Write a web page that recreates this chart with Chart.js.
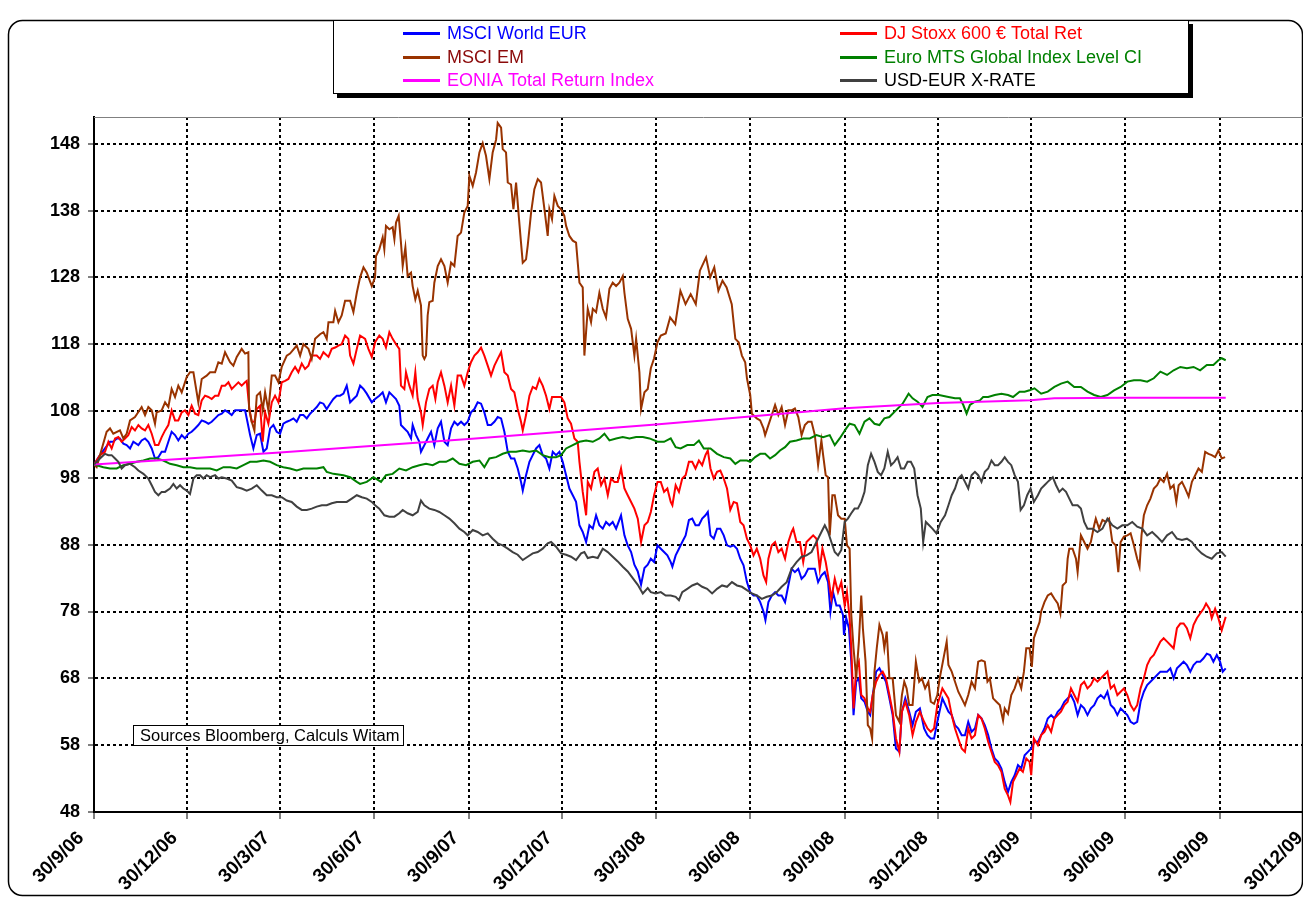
<!DOCTYPE html>
<html><head><meta charset="utf-8">
<script src="https://cdn.jsdelivr.net/npm/chart.js@4/dist/chart.umd.min.js"></script>
<style>
html,body{margin:0;padding:0;background:#fff;overflow:hidden;width:1303px;height:898px}
canvas{display:block}
</style></head><body>
<canvas id="c" width="1330" height="898"></canvas>
<script>
// x values = days since 30/9/06
const quarterDays=[0,91,181,273,365,456,547,639,731,822,912,1004,1096,1187];
const quarterLabels=['30/9/06','30/12/06','30/3/07','30/6/07','30/9/07','30/12/07','30/3/08','30/6/08','30/9/08','30/12/08','30/3/09','30/6/09','30/9/09','30/12/09'];
const yTicks=[48,58,68,78,88,98,108,118,128,138,148];
const seriesNames=['MSCI World EUR','DJ Stoxx 600 € Total Ret','MSCI EM','Euro MTS Global Index Level CI','EONIA Total Return Index','USD-EUR X-RATE'];

const msciWorld=[[0,100],[5.8,101.4],[10.7,102.4],[15.6,103.4],[18.8,103.4],[22.1,103.9],[25.3,103.9],[28.6,103.1],[31.8,102.9],[35.1,102.4],[38.3,103.4],[43.2,102.9],[46.4,103.6],[49.7,103.9],[52.9,103.4],[56.2,102.4],[59.4,100.9],[62.7,101.1],[65.9,101.9],[69.2,101.9],[72.4,103.4],[75.6,104.9],[78.9,104.4],[82.1,103.6],[85.4,104.4],[88.6,103.9],[91.9,104.6],[95.1,104.9],[98.4,105.4],[101.6,105.9],[104.9,106.6],[108.1,106.4],[111.4,106.1],[114.6,106.4],[117.9,106.9],[121.1,107.4],[124.4,107.6],[127.6,108.1],[130.9,107.8],[134.1,107.4],[137.4,108.1],[140.6,108.1],[147.1,108.1],[149.4,106.4],[152,104.4],[155.2,102.4],[158.5,104.4],[161.7,104.6],[165,101.9],[168.2,102.4],[171.5,105.4],[174.7,105.9],[177.9,104.9],[181.2,104.6],[184.4,106.1],[187.7,106.4],[190.9,106.6],[194.2,106.9],[197.4,106.4],[200.7,107.4],[203.9,107.4],[207.2,106.9],[210.4,107.6],[213.7,108.1],[216.9,108.6],[220.1,109.3],[223.4,109.1],[226.6,108.3],[229.9,109.1],[233.1,109.8],[236.4,110.3],[239.6,110.3],[242.9,110.6],[246.1,111.8],[249.4,109.3],[252.6,109.8],[255.9,110.3],[259.1,111.8],[262.4,111.3],[265.6,110.6],[270.5,109.3],[273.7,109.8],[277.8,110.3],[281.1,110.8],[284.3,109.3],[287.6,110.8],[290.8,110.3],[294.1,109.8],[297.3,108.8],[298.9,105.9],[302.2,105.4],[305.4,104.9],[308.7,103.9],[310.3,105.9],[313.6,104.4],[316.8,103.4],[318.4,101.9],[321.7,102.9],[324.9,103.9],[328.2,104.9],[331.4,102.9],[334.7,105.4],[337.9,106.4],[341.2,103.4],[344.4,102.9],[347.7,105.4],[350.9,106.4],[354.1,105.9],[357.4,106.4],[360.6,105.9],[363.9,106.4],[367.1,107.8],[370.4,108.3],[373.6,109.3],[376.9,109.1],[380.1,107.8],[383.4,105.9],[386.6,105.9],[389.9,106.4],[393.1,107.1],[396.4,106.9],[399.6,104.9],[402.9,101.9],[406.1,100.9],[409.3,100.9],[412.6,99.4],[415.8,97.4],[417.5,96.1],[420.7,98.4],[424,100.4],[427.2,101.4],[430.5,102.4],[433.7,102.9],[436.9,101.4],[440.2,100.9],[443.4,99.4],[446.7,101.9],[449.9,101.4],[453.2,101.9],[456.4,100.4],[459.7,98.4],[462.9,96.4],[466.2,95.4],[469.4,94.4],[472.7,90.9],[475.9,89.9],[479.2,88.4],[482.4,90.9],[485.7,90.4],[488.9,92.4],[492.1,90.9],[495.4,90.4],[498.6,91.4],[501.9,90.9],[505.1,91.4],[508.4,90.4],[513.2,92.4],[516.5,89.4],[519.7,87.9],[523,86.9],[526.2,85],[529.5,84],[532.7,82],[536,84.5],[539.2,85],[542.2,85.9],[545.4,85.4],[548.7,87.9],[551.9,87.4],[555.1,86.9],[558.3,86.4],[561.6,85.4],[563.2,84.7],[566.4,86.4],[569.6,87.4],[572.8,88.4],[576.1,89.4],[579.3,91.7],[582.5,91.9],[585.7,90.9],[589,90.9],[592.2,91.9],[595.4,92.4],[597.7,92.9],[600.3,89.4],[603.5,88.9],[606.7,90.4],[609.9,90.4],[613.2,89.4],[616.4,87.9],[619.6,87.7],[622.9,87.9],[626.1,87.4],[629.3,85.9],[632.5,84.9],[635.8,82.4],[639,80.9],[642.2,80.4],[645.4,80.4],[648.7,79.4],[651.9,78],[653.8,76.7],[656.7,79.4],[660,80.4],[663.2,80.9],[666.4,80.4],[669.6,80.4],[672.9,79.4],[676.1,81.9],[679.3,84.4],[682.5,83.9],[685.8,84.4],[689,82.9],[692.2,83.4],[695.4,84.4],[698.7,84.4],[701.9,84.4],[705.1,82.4],[708.3,83.4],[711.6,83.9],[714.8,82.4],[717.1,78],[719.6,80.9],[722.9,78.9],[726.1,78.9],[729.3,77.5],[730.3,74.5],[732.5,77],[735.1,75.5],[737.4,70.5],[739.6,62.5],[742.2,67.5],[744.8,68],[747.1,65],[750.3,64.5],[753.5,63],[755.8,62.5],[758.3,65.5],[761.6,69],[764.8,69.5],[768,68.5],[771.2,67.5],[774.5,65],[777.7,62.5],[780.9,57.5],[784.2,57],[786.7,63],[790,65],[793.8,63],[797.1,61],[800.3,63],[804.2,63.5],[808.3,60.5],[811.6,59.5],[814.8,59],[818,59],[821.2,61.5],[826.1,65],[832,63],[835.2,62.5],[838.4,61],[841.6,60.5],[844.9,59.5],[848.1,59.5],[851.3,61.5],[854.5,60],[857.8,60.5],[861,62.5],[864.2,62],[867.4,61],[870.7,59.5],[873.9,57.5],[877.1,56],[880.3,55.5],[883.6,54.5],[886.8,52.5],[890,51],[893.2,52.5],[896.5,53.5],[899.7,55],[902.9,54.5],[906.2,56.5],[909.4,57],[912.6,57.5],[915.8,58.5],[919.1,58.5],[922.3,59.5],[925.5,60.5],[928.7,62],[932,62.5],[935.2,62],[938.4,63],[941.6,63.5],[944.9,64.5],[948.1,65],[951.3,65.5],[954.5,64.5],[957.8,62.5],[961,64],[964.2,63.5],[967.4,62.5],[970.7,63.5],[973.9,64],[977.1,65],[980.3,65.5],[983.6,65],[986.8,66],[990,64],[993.3,63.5],[996.5,62.5],[999.7,63.5],[1002.9,63],[1006.2,62.5],[1009.4,61.5],[1012.6,61.2],[1015.8,61.5],[1019.1,64.5],[1022.3,66],[1025.5,67],[1028.7,67.5],[1032,68],[1035.2,68.5],[1038.4,69],[1041.6,69],[1044.9,69],[1048.1,69.5],[1051.3,68],[1054.5,69.5],[1057.8,70],[1061,70.5],[1064.2,70],[1067.5,69],[1070.7,70],[1073.9,70.5],[1077.1,70.5],[1080.4,71],[1083.6,71.7],[1086.8,71.5],[1090,70.5],[1093.3,71.5],[1096.5,70.5],[1099.1,69],[1102,69.5]];

const djStoxx=[[0,100],[5.8,101.4],[10.7,101.9],[14,103.4],[17.2,102.4],[20.5,103.9],[23.7,104.1],[26.9,103.4],[30.2,103.9],[33.4,104.4],[36.7,105.6],[39.9,105.1],[43.2,105.9],[46.4,105.4],[49.7,105.1],[52.9,105.9],[56.2,104.6],[59.4,102.9],[62.7,102.9],[65.9,104.1],[69.2,105.1],[72.4,105.9],[75.6,108.1],[78.9,106.6],[82.1,106.6],[85.4,107.8],[88.6,108.1],[91.9,107.4],[95.1,108.8],[98.4,107.6],[101.6,107.4],[104.9,109.6],[108.1,110.3],[111.4,110.1],[114.6,109.8],[117.9,110.3],[121.1,110.3],[124.4,111.8],[127.6,111.8],[130.9,112.3],[134.1,111.3],[137.4,111.8],[140.6,112.3],[143.8,111.8],[147.1,112.3],[148.7,112.5],[151.3,108.3],[153.6,106.4],[156.2,106.4],[158.5,108.3],[161.7,108.8],[164.3,103.4],[166.6,107.8],[169.8,106.1],[173.1,109.3],[176.3,110.3],[179.6,109.3],[182.8,112.3],[186.1,112.5],[189.3,112.8],[192.5,113.8],[195.8,114.6],[199,113.8],[202.3,115.1],[205.5,114.3],[208.8,114.8],[212,116.3],[216.9,116.3],[220.1,115.8],[223.4,116.8],[228.3,116.1],[231.5,117.3],[234.8,117.5],[238,117.8],[241.2,118],[244.5,119.3],[247.7,118.8],[249.4,116.3],[252.6,115.1],[255.9,117.3],[259.1,119.3],[264,118.8],[267.2,117.3],[270.5,116.1],[273.7,118.3],[277.8,119.3],[281.1,118.8],[284.3,117.5],[287.6,119.8],[290.8,118.8],[294.1,118],[297.3,117.3],[298.9,111.8],[302.2,111.3],[303.8,113.8],[307.1,111.8],[310.3,110.3],[312.9,113.8],[315.2,109.8],[318.4,107.8],[320.1,105.9],[323.3,109.3],[326.5,111.3],[329.8,111.8],[332.4,109.8],[334.7,112.3],[337.9,113.8],[341.2,111.8],[344.4,109.3],[347.7,111.8],[350.9,108.8],[354.1,113.3],[357.4,113.3],[360.6,111.8],[363.9,113.8],[367.1,115.3],[370.4,116.3],[373.6,116.8],[376.9,117.5],[380.1,116.3],[383.4,114.8],[386.6,113.3],[389.9,114.8],[393.1,115.8],[396.4,116.8],[399.6,113.8],[402.9,113.3],[406.1,111.3],[409.3,110.8],[412.6,108.3],[415.8,106.4],[417.5,105.1],[420.7,107.4],[424,110.3],[427.2,111.6],[430.5,111.3],[433.7,112.8],[436.9,111.8],[440.2,110.3],[443.4,108.3],[446,110.1],[449.9,110.1],[454.8,110.1],[458,109.3],[461.3,106.9],[464.5,106.1],[467.8,103.9],[471,103.4],[472.7,100.4],[475.9,95.9],[479.2,92.4],[480.8,97.4],[484,96.4],[487.3,98.9],[490.5,99.4],[493.8,96.9],[497,97.9],[500.3,95.4],[503.5,97.9],[506.8,97.4],[510,97.4],[513.2,99.4],[516.5,96.4],[519.7,95.4],[523,94.4],[526.2,93.4],[529.5,91.9],[532.7,88.4],[536,90.9],[539.2,91.4],[542.2,92.9],[545.4,95.4],[548.7,97.4],[551.9,97.4],[555.1,95.9],[558.3,96.4],[561.6,94.4],[563.2,93.9],[566.4,96.9],[569.6,95.9],[572.8,97.9],[576.1,98.4],[579.3,100.4],[582.5,100.4],[585.7,99.4],[589,100.6],[592.2,99.9],[595.4,101.4],[597.7,102.1],[600.3,99.4],[603.5,97.9],[606.7,98.9],[609.9,99.1],[613.2,97.9],[616.4,96.4],[619.6,93.2],[622.9,94.4],[626.1,94.2],[629.3,91.4],[632.5,90.9],[635.8,88.9],[639,87.9],[642.2,86.4],[645.4,87.4],[648.7,85.9],[651.9,83.4],[654.5,82.4],[656.7,85.9],[660,87.9],[663.2,88.4],[666.4,86.9],[669.6,87.4],[672.9,85.9],[676.1,88.4],[679.3,89.9],[680.9,90.4],[684.1,88.4],[687.4,88.4],[690.6,85.4],[693.8,88.4],[697,88.9],[700.3,89.4],[703.5,88.9],[706.7,84.4],[709.3,87.4],[712.5,85.4],[715.8,82.4],[718,79.9],[721.3,82.9],[724.5,80.9],[727.7,82.4],[731,78.9],[733.2,80.9],[735.8,77],[737.4,72.5],[739.6,63.5],[742.2,69.5],[744.8,70.5],[747.1,65.5],[750.3,65],[753.5,63.5],[755.8,63],[758.3,65.5],[761.6,67.5],[764.8,68.5],[768,69],[771.2,68],[774.5,65.5],[777.7,63],[780.9,59],[784.2,57],[786.7,63],[790,64.5],[793.8,62.5],[797.1,59.5],[800.3,61.5],[804.2,63],[808.3,61.5],[811.6,60.5],[814.8,60],[818,60.5],[821.2,64],[826.1,66.5],[832,65],[835.2,62.5],[838.4,60.5],[841.6,59],[844.9,57.5],[848.1,57],[851.3,60.5],[854.5,59],[857.8,59.5],[861,62.5],[864.2,62],[867.4,60.5],[870.7,58.5],[873.9,57],[877.1,55.5],[880.3,55],[883.6,54],[886.8,51.5],[890,50.5],[892.3,49.5],[894.9,52.5],[898.1,53.5],[901.3,54.5],[904.5,54],[907.8,56],[911,55.5],[912.6,53.5],[915.2,59],[919.1,58],[922.3,59.5],[925.5,60],[928.7,61],[932,60],[935.2,62],[938.4,62.5],[941.6,63],[944.9,64],[948.1,64.5],[951.3,66.5],[954.5,65.5],[957.8,64.5],[961,67],[964.2,67.5],[967.4,66.5],[970.7,67],[973.9,68],[977.1,67.5],[980.3,68],[983.6,68.5],[986.8,69],[990,66.5],[993.3,67],[996.5,65.5],[999.7,66],[1002.9,66.5],[1006.2,65.5],[1009.4,64],[1012.6,63.2],[1015.8,64],[1019.1,66.5],[1022.3,68],[1025.5,70],[1028.7,71],[1032,71.5],[1035.2,72.5],[1038.4,73.5],[1041.6,74],[1044.9,73.5],[1048.1,73],[1051.3,72.5],[1054.5,75.5],[1057.8,76.2],[1061,76.2],[1064.2,75.5],[1067.5,74],[1070.7,76],[1073.9,77],[1077.1,77.7],[1080.4,78.4],[1082.9,79.2],[1086.2,78.4],[1088.4,77],[1091.7,78.4],[1094.9,77],[1098.1,75.2],[1100.4,76.4],[1102,77.2]];

const msciEM=[[0,100],[2.6,99.6],[5.8,101.4],[12.3,104.9],[15.6,105.4],[18.8,104.6],[25.3,105.1],[28.6,103.9],[31.8,104.6],[35.1,106.6],[39.9,107.1],[46.4,108.6],[49.7,107.4],[52.9,108.6],[56.2,108.1],[59.4,106.1],[61,107.8],[65.9,108.1],[69.2,109.3],[72.4,108.6],[75.6,111.3],[78.9,110.1],[82.1,111.8],[85.4,110.8],[90.3,113.1],[93.5,113.8],[96.8,113.8],[101.6,109.3],[104.9,112.8],[109.7,113.3],[113,113.8],[117.9,113.8],[121.1,115.3],[124.4,115.1],[127.6,116.8],[132.5,115.3],[135.7,114.8],[139,116.1],[143.8,117.3],[147.1,116.6],[150.3,116.8],[151,108.3],[153.6,106.4],[156.2,105.1],[158.5,110.3],[161.7,110.8],[164.3,108.1],[166.6,110.8],[169.8,108.1],[173.1,113.3],[176.3,113.3],[179.6,112.3],[182.8,114.6],[187.7,116.3],[190.9,116.6],[197.4,117.8],[200.7,116.3],[203.9,118],[208.8,117.3],[212,115.8],[215.3,118.8],[220.1,119.5],[223.4,119.8],[226.6,118.8],[228.3,121.3],[233.1,121.3],[234.8,123],[238,121.3],[241.2,122.3],[244.5,124.5],[249.4,124.5],[252.6,122.8],[255.9,125.7],[259.1,128],[262.4,129.5],[265.6,128.7],[270.5,126.7],[273.7,128],[274.6,131.2],[277.8,132.2],[281.1,134],[282.7,132.2],[284.3,135.7],[287.6,135.2],[290.8,135.5],[292.5,133.7],[294.1,136.2],[296.7,137.2],[298.9,133.2],[300.6,129.7],[303.2,132.5],[305.4,128.2],[308.7,128.7],[310.3,126.7],[312.9,124.7],[315.2,126],[318.4,123.8],[320.1,116.3],[321.7,115.8],[323.3,116.3],[324.9,122.3],[326.5,124.3],[329.8,124.5],[331.4,127.2],[334.7,129.7],[337.9,130.7],[341.2,129.7],[344.4,127.2],[347.7,130.2],[350.9,129.7],[354.1,134.2],[357.4,134.7],[360.6,137.7],[363.9,138.7],[365.5,143.2],[368.8,141.7],[372,143.7],[375.3,146.7],[378.5,148.1],[381.7,146.2],[385,142.7],[388.2,146.7],[391.5,148.6],[393.1,151.1],[396.4,150.4],[398,147.2],[401.2,146.7],[402.9,142.2],[406.1,141.9],[408.4,138.2],[411,142.2],[413.6,137.2],[415.8,133.2],[417.5,130.2],[420.7,130.7],[422.3,132.7],[425.6,137.7],[428.8,141.2],[432.1,142.7],[435.3,142.2],[438.6,138.2],[441.8,134.2],[443.4,138.2],[446,136.7],[448.3,140.2],[451.6,138.7],[454.8,138.2],[458,137.2],[459.7,135.7],[462.9,134.2],[466.2,133.5],[469.4,133.2],[472.7,127.2],[475.9,126.5],[477.5,116.3],[480.8,123.3],[484,121.3],[485.7,123.3],[488.9,122.8],[492.1,125.7],[495.4,123.3],[498.6,122],[501.9,126.3],[505.1,127.2],[508.4,126.7],[511.6,127.2],[514.9,128.2],[516.5,125.7],[519.7,121.8],[523,120.3],[526.2,116.3],[527.9,118.8],[531.1,113.8],[532.7,108.3],[536,110.8],[539.2,111.3],[542.2,114.4],[545.4,115.9],[548.7,118.3],[551.9,119.3],[556.7,119.6],[561,122],[566,121],[571,126],[576,124],[581,125.5],[586,124],[590,129],[596,131],[600,128],[604,129.5],[608,126],[612,127.5],[616,126.5],[621,124],[624.5,118.8],[627.7,118.3],[630.9,116.3],[634.1,115.3],[635.8,112.9],[639,110.4],[640.6,107.6],[645.4,106.9],[648.7,106.6],[651.9,105.4],[653.5,104.4],[656.7,105.9],[660,107.4],[663.2,108.9],[666.4,107.4],[669.6,108.6],[672.9,105.9],[676.1,108.1],[679.3,108.1],[682.5,108.4],[685.8,107.1],[689,104.4],[692.2,105.9],[695.4,106.4],[698.7,106.4],[701.9,104.4],[705.1,99.9],[708.3,103.6],[710,101.4],[712.5,98.4],[714.8,98.1],[716.4,89.4],[719,95.4],[721.3,95.4],[724.5,92.4],[727.7,91.9],[731,91.9],[733.2,87.9],[735.8,87.4],[737.4,77.5],[739.6,72.5],[742.2,68],[744.8,73.5],[747.1,80.4],[748.7,75.5],[751.3,70.5],[753.5,61],[755.8,60.5],[757.7,59],[760,69],[762.2,72.5],[764.8,76],[768,74.5],[769.6,72.5],[771.9,75],[774.5,68],[777.7,68],[780.9,62.5],[784.2,61.5],[786.7,65.5],[789,67.5],[791.3,66.5],[793.8,64],[797.1,64],[800.3,70.5],[803.5,67.5],[806.1,68],[809.3,66.5],[812.5,67.5],[814.8,64.5],[818,64.2],[821.2,65.5],[823.5,68],[830.3,73.5],[832,70],[835.2,69],[838.4,67.5],[841.6,66],[844.9,65],[848.1,64],[851.3,65.5],[854.5,67.5],[857.8,66.5],[861,70.5],[864.2,70.7],[867.4,70.5],[870,67.5],[872.3,68],[875.5,65],[878.7,64.5],[882,64],[885.2,61.7],[886.8,63.5],[890,62.7],[893.2,65.5],[896.5,66.5],[899.7,68],[902.9,66.5],[905.5,69],[907.8,72.5],[911,72.5],[913.2,69.7],[915.2,74],[917.4,75],[920.7,76.4],[922.3,78],[925.5,79.4],[928.7,80.4],[932,80.7],[935.2,79.9],[938.4,79.2],[941,77.7],[943.2,81.9],[946.5,82.4],[948.1,85.9],[949.7,87.4],[952.9,87.4],[956.2,85.9],[957.8,83.9],[961,89.4],[964.2,88.4],[967.4,87.4],[970.7,88.4],[973.9,90.9],[975.5,91.9],[978.7,90.4],[982,91.7],[985.2,91.4],[988.4,91.9],[991.6,88.4],[994.9,87.9],[997.4,83.9],[999.7,88.4],[1002.9,89.2],[1006.2,89.4],[1009.4,89.7],[1012.6,87.9],[1015.8,85.9],[1018.1,84.7],[1020,89.4],[1022.3,92.4],[1025.5,93.9],[1028.7,94.9],[1032,96.4],[1035.2,96.9],[1038.4,97.9],[1041.6,97.4],[1044.9,98.6],[1048.1,96.4],[1051.3,96.9],[1053.9,94.4],[1056.2,96.9],[1059.4,97.4],[1062.6,96.4],[1065.9,95.2],[1069.1,97.4],[1072.3,98.4],[1075.5,99.4],[1078.8,98.9],[1082,101.9],[1085.2,101.6],[1088.4,101.4],[1091.7,101.1],[1094.9,102.1],[1098.1,100.9],[1101.4,101.1]];

const euroMTS=[[0,100],[9.1,99.6],[15.6,99.4],[22.1,99.4],[28.6,99.9],[35.1,100.1],[41.6,100.4],[48.1,100.6],[54.5,100.9],[61,100.9],[67.5,100.6],[74,100.1],[80.5,99.9],[87,99.6],[93.5,99.6],[100,99.4],[106.5,99.4],[113,99.4],[119.5,99.1],[126,99.6],[132.5,99.6],[139,99.4],[145.5,99.9],[152,100.4],[158.5,100.4],[165,100.6],[171.5,100.4],[177.9,99.9],[184.4,99.6],[190.9,99.4],[197.4,99.1],[203.9,99.4],[210.4,99.4],[216.9,99.4],[223.4,99.6],[226.6,98.9],[233.1,98.6],[242.9,98.4],[249.4,98.1],[255.9,97.4],[259.1,97.1],[265.6,97.4],[272.1,98.1],[279.5,97.4],[284.3,98.4],[290.8,98.6],[297.3,99.4],[303.8,99.1],[310.3,99.6],[316.8,99.9],[323.3,100.1],[329.8,99.9],[336.3,100.4],[342.8,100.4],[349.3,100.9],[355.8,100.1],[362.3,99.9],[368.8,100.4],[375.3,100.6],[380.1,99.6],[385,100.9],[391.5,101.1],[398,101.6],[404.5,101.9],[411,101.9],[417.5,102.1],[424,101.9],[430.5,102.1],[436.9,101.4],[443.4,101.1],[449.9,101.1],[454.8,101.4],[459.7,102.4],[466.2,102.9],[472.7,103.4],[479.2,103.6],[485.7,103.4],[492.1,103.9],[497,104.6],[501.9,103.6],[508.4,103.9],[514.9,104.1],[521.4,103.9],[527.9,104.1],[534.4,104.1],[540.9,103.9],[548.7,103.4],[555.1,103.4],[561.6,103.9],[566.4,102.6],[571.2,102.4],[577.7,102.9],[584.1,102.9],[589,103.6],[593.8,102.4],[600.3,102.4],[606.7,101.6],[613.2,101.1],[619.6,100.9],[624.5,100.1],[629.3,100.6],[635.8,100.6],[639,100.4],[643.8,101.1],[648.7,101.6],[653.5,101.6],[658.3,100.9],[663.2,101.4],[668,102.1],[672.9,102.6],[677.7,103.4],[684.1,103.6],[690.6,103.9],[697,103.9],[703.5,104.4],[710,104.1],[716.4,104.4],[721.3,102.9],[726.1,103.9],[732.5,105.4],[735.8,106.1],[740.6,105.9],[745.4,104.6],[750.3,106.4],[755.1,106.9],[760,106.1],[764.8,105.9],[769.6,106.9],[774.5,107.1],[780.9,108.1],[787.4,109.1],[793.2,110.6],[797.1,109.9],[801.9,109.4],[806.7,108.6],[811.6,110.1],[816.4,110.4],[822.9,110.4],[832,110.1],[838.4,109.9],[843.2,109.9],[846.5,108.9],[849.7,107.6],[852.9,108.9],[857.8,109.4],[862.6,109.6],[865.8,110.1],[870.7,110.1],[877.1,110.4],[883.6,110.6],[890,110.4],[894.9,110.1],[901.3,110.9],[906.2,110.9],[911,111.1],[915.8,111.4],[922.3,110.6],[928.7,110.9],[935.2,111.6],[941.6,112.1],[948.1,112.4],[954.5,111.6],[961,111.6],[967.4,110.9],[973.9,110.4],[980.3,110.1],[986.8,110.4],[993.3,111.1],[999.7,111.6],[1006.2,112.4],[1012.6,112.6],[1019.1,112.6],[1025.5,112.4],[1032,112.9],[1038.4,113.9],[1044.9,113.4],[1051.3,114.1],[1057.8,114.6],[1064.2,114.4],[1070.7,114.6],[1077.1,114.1],[1083.6,114.9],[1090,114.9],[1094.9,115.6],[1098.1,115.9],[1102,115.6]];

const eonia=[[0,100],[91,100.9],[181,101.8],[273,102.8],[365,103.8],[456,104.9],[547,106],[639,107.2],[731,108.4],[822,109.2],[912,109.6],[935,109.9],[1004,110],[1102,110]];

const usdEur=[[0,100],[5.8,100.9],[10.7,101.6],[14,101.4],[17.2,101.4],[20.5,100.9],[23.7,100.4],[26.9,99.4],[30.2,99.9],[35.1,100.1],[39.9,99.6],[43.2,99.1],[48.1,98.6],[52.9,97.9],[56.2,96.9],[59.4,95.9],[62.7,95.4],[65.9,95.9],[69.2,95.9],[74,96.4],[77.3,97.1],[80.5,96.4],[83.8,96.9],[87,96.4],[90.3,96.1],[93.5,95.6],[96.8,97.9],[100,98.4],[103.3,98.4],[106.5,97.9],[109.7,98.4],[113,98.1],[117.9,98.4],[121.1,97.9],[124.4,98.1],[129.2,97.9],[134.1,97.6],[139,96.6],[143.8,96.4],[148.7,96.1],[153.6,96.4],[158.5,96.9],[163.4,96.1],[168.2,95.4],[173.1,95.4],[177.9,95.1],[182.8,95.1],[187.7,94.6],[192.5,94.4],[197.4,93.7],[202.3,93.2],[207.2,93.2],[212,93.4],[216.9,93.7],[221.8,93.9],[226.6,93.9],[231.5,94.2],[236.4,94.4],[241.2,94.4],[246.1,94.4],[251,94.9],[255.9,95.4],[260.8,95.1],[265.6,94.9],[270.5,94.4],[273.7,93.9],[277.8,93.4],[282.7,92.4],[287.6,92.2],[292.5,92.2],[297.3,92.7],[300.6,93.2],[305.4,92.7],[310.3,92.4],[315.2,92.9],[318.4,94.6],[321.7,93.9],[326.5,93.4],[331.4,93.2],[336.3,92.9],[341.2,92.4],[346,91.9],[350.9,91.2],[355.8,90.4],[360.6,89.9],[363.9,89.4],[368.8,90.2],[373.6,89.9],[378.5,89.4],[383.4,89.7],[388.2,88.9],[393.1,88.2],[398,87.9],[402.9,87.4],[407.7,86.9],[412.6,86.5],[417.5,85.7],[422.3,86.2],[427.2,86.7],[432.1,86.9],[436.9,87.4],[441.8,88.2],[445.1,88.4],[449.9,87.7],[454.8,86.7],[459.7,86.5],[464.5,86.2],[469.4,85.7],[474.3,86.7],[477.5,86.9],[480.8,86],[485.7,86.2],[490.5,86],[495.4,87.4],[500.3,86.9],[505.1,86.2],[510,85.5],[514.9,84.7],[519.7,84],[524.6,83],[529.5,82],[534.4,80.7],[539.2,81.5],[542.2,80.9],[547,80.7],[551.9,80.9],[556.7,80.4],[561.6,80.4],[566.4,80.2],[569.6,79.7],[572.8,80.9],[577.7,81.4],[582.5,81.9],[587.4,82.2],[592.2,81.7],[597,81.4],[601.9,80.7],[606.7,81.4],[611.6,81.9],[616.4,81.7],[621.2,82.4],[626.1,81.9],[630.9,81.7],[635.8,81.2],[640.6,80.7],[645.4,80.4],[650.3,79.9],[655.1,80.2],[660,80.4],[664.8,80.9],[669.6,81.7],[674.5,82.4],[679.3,84.4],[684.1,85.4],[689,86.2],[693.8,86.4],[698.7,86.9],[703.5,88.4],[708.3,89.9],[711.6,90.9],[714.8,89.9],[718,88.4],[721.3,86.9],[724.5,86.4],[727.7,87.2],[730.9,91.4],[734.1,91.9],[737.4,92.7],[740.6,93.4],[743.8,93.4],[747.1,94.4],[750.3,95.9],[753.5,99.9],[756.7,101.6],[760,100.4],[763.2,98.9],[766.4,98.4],[769.6,99.4],[772.9,101.9],[776.1,99.9],[779.3,100.4],[782.5,101.1],[785.8,99.4],[789,99.4],[792.2,100.4],[795.4,100.4],[798.7,99.4],[801.9,95.4],[805.1,93.4],[807.4,88.4],[810,91.4],[813.2,90.9],[816.4,90.4],[820.3,89.7],[824.5,91.4],[828.7,92.4],[832,93.9],[835.2,95.4],[838.4,96.4],[841.6,97.9],[844.9,98.4],[848.1,97.4],[851.3,96.4],[854.5,98.4],[857.8,98.9],[861,98.4],[864.2,97.4],[867.4,98.9],[870.7,99.4],[873.9,100.6],[877.1,99.9],[880.3,99.9],[883.6,100.4],[886.8,101.1],[890,100.4],[893.2,99.9],[896.5,98.4],[899.7,97.4],[902.3,93.2],[905.5,93.9],[908.7,95.4],[912,96.4],[915.2,94.4],[919.1,95.4],[922.3,96.4],[925.5,96.9],[928.7,97.4],[933.6,98.1],[936.8,96.9],[940,95.9],[943.2,96.4],[946.5,95.9],[949.7,94.9],[952.9,93.9],[957.8,93.9],[961,93.4],[964.2,91.4],[967.4,90.4],[972.3,90.4],[977.1,89.9],[982,90.4],[986.8,91.9],[991.6,90.9],[996.5,90.4],[1001.3,90.9],[1006.2,90.9],[1011,91.4],[1015.8,90.7],[1020.7,90.4],[1025.5,89.4],[1030.4,89.9],[1035.2,89.2],[1040,88.4],[1044.9,89.4],[1049.7,89.9],[1054.5,88.9],[1059.4,88.7],[1064.2,88.9],[1069.1,88.4],[1073.9,87.4],[1078.7,86.7],[1083.6,86.2],[1088.4,85.9],[1093.3,86.7],[1098.1,86.9],[1102,86.2]];

const FONT='"Liberation Sans", Arial, Helvetica, sans-serif';
const toXY=a=>a.map(p=>({x:p[0],y:p[1]}));
function ds(label,data,color,order){
  return {label,data:toXY(data),borderColor:color,backgroundColor:color,borderWidth:2,pointRadius:0,tension:0,fill:false,order};
}

const framePlugin={
  id:'frame',
  beforeDraw(chart){
    const ctx=chart.ctx;
    ctx.save();
    ctx.fillStyle='#fff';
    ctx.fillRect(0,0,chart.width,chart.height);
    ctx.strokeStyle='#000';ctx.lineWidth=1.5;
    ctx.beginPath();
    if(ctx.roundRect){ctx.roundRect(8.5,20.5,1294,875,14);}else{ctx.rect(8.5,20.5,1294,875);}
    ctx.stroke();
    ctx.restore();
  },
  afterDraw(chart){
    const ctx=chart.ctx;const a=chart.chartArea;
    ctx.save();
    ctx.strokeStyle='#808080';ctx.lineWidth=1;
    ctx.beginPath();ctx.moveTo(a.left,a.top+0.5);ctx.lineTo(a.right,a.top+0.5);ctx.stroke();
    const lx=333,ly=20,lw=856,lh=74;
    ctx.fillStyle='#000';ctx.fillRect(lx+4,ly+4,lw,lh);
    ctx.fillStyle='#fff';ctx.fillRect(lx,ly,lw,lh);
    ctx.strokeStyle='#000';ctx.lineWidth=1;ctx.strokeRect(lx+0.5,ly+0.5,lw-1,lh-1);
    const items=[
      [403,33,'#0000FF','#0000FF',seriesNames[0]],
      [403,57,'#993300','#8B0A0A',seriesNames[2]],
      [403,80,'#FF00FF','#FF00FF',seriesNames[4]],
      [840,33,'#FF0000','#FF0000',seriesNames[1]],
      [840,57,'#008000','#008000',seriesNames[3]],
      [840,80,'#404040','#000000',seriesNames[5]]
    ];
    ctx.font='18px '+FONT;ctx.textBaseline='middle';ctx.textAlign='left';
    items.forEach(([x,y,lc,tc,t])=>{
      ctx.strokeStyle=lc;ctx.lineWidth=3;
      ctx.beginPath();ctx.moveTo(x,y+0.5);ctx.lineTo(x+37,y+0.5);ctx.stroke();
      ctx.fillStyle=tc;ctx.fillText(t,x+44,y+1);
    });
    ctx.fillStyle='#fff';ctx.fillRect(133,725,270,21);
    ctx.strokeStyle='#000';ctx.lineWidth=1;ctx.strokeRect(133.5,725.5,270,20);
    ctx.fillStyle='#000';ctx.font='16.5px '+FONT;ctx.textBaseline='middle';
    ctx.fillText('Sources Bloomberg, Calculs Witam',140,736);
    ctx.restore();
  }
};

new Chart(document.getElementById('c'),{
  type:'line',
  data:{datasets:[
    ds(seriesNames[0],msciWorld,'#0000FF',6),
    ds(seriesNames[1],djStoxx,'#FF0000',5),
    ds(seriesNames[2],msciEM,'#993300',4),
    ds(seriesNames[3],euroMTS,'#008000',3),
    ds(seriesNames[4],eonia,'#FF00FF',2),
    ds(seriesNames[5],usdEur,'#404040',1)
  ]},
  options:{
    responsive:false,animation:false,devicePixelRatio:1,
    layout:{padding:{left:0,top:117,right:17,bottom:0}},
    plugins:{legend:{display:false},tooltip:{enabled:false}},
    scales:{
      x:{type:'linear',min:0,max:1187,
        afterBuildTicks:s=>{s.ticks=quarterDays.map(v=>({value:v}));},
        afterFit:s=>{s.height=86;s.paddingLeft=0;s.paddingRight=0;},
        ticks:{autoSkip:false,maxRotation:45,minRotation:45,padding:8,labelOffset:-13,color:'#000',
          font:{family:FONT,size:19,weight:'bold'},
          callback:(v,i)=>quarterLabels[i]},
        grid:{color:'#000',lineWidth:2,tickBorderDash:[],tickLength:7,tickWidth:1,tickColor:'#000'},
        border:{display:true,color:'#000',width:2,dash:[3,3]}
      },
      y:{type:'linear',min:48,max:152,
        afterBuildTicks:s=>{s.ticks=yTicks.map(v=>({value:v}));},
        afterFit:s=>{s.width=94;s.paddingTop=0;s.paddingBottom=0;},
        ticks:{autoSkip:false,padding:8,color:'#000',font:{family:FONT,size:18,weight:'bold'},
          callback:v=>String(v)},
        grid:{color:'#000',lineWidth:2,tickBorderDash:[],tickLength:6,tickWidth:1,tickColor:'#000'},
        border:{display:true,color:'#000',width:2,dash:[3,3]}
      }
    }
  },
  plugins:[framePlugin]
});
</script>
</body></html>
